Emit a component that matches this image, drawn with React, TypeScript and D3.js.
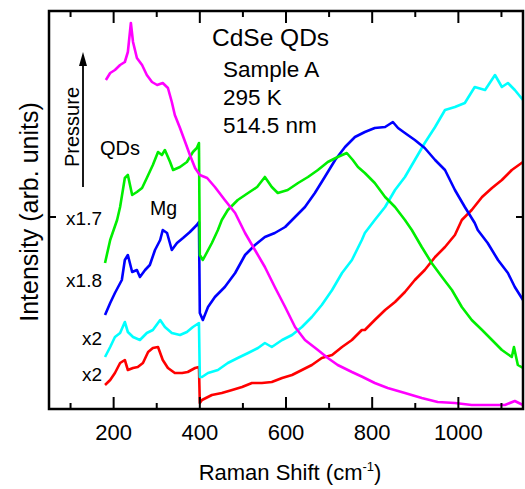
import React, { useEffect, useRef } from "react";
import * as d3 from "d3";

type Pt = [number, number];

// Raman shift (cm-1), intensity (arb. units)
const redSpectrum: Pt[] = [
  [180, 24], [192, 29], [203, 36], [215, 46], [226, 49], [233, 39], [245, 41], [256, 42],
  [268, 46], [280, 57], [291, 61], [303, 62], [314, 49], [326, 41], [342, 36], [359, 36],
  [372, 37], [389, 41], [398, 42], [400, 6], [405, 9], [428, 14], [451, 16], [475, 19],
  [498, 22], [521, 26], [544, 26], [567, 27], [591, 31], [614, 34], [637, 39], [660, 44],
  [683, 51], [707, 54], [730, 62], [753, 69], [776, 79], [783, 79], [806, 89], [830, 99],
  [853, 107], [876, 117], [899, 129], [922, 139], [946, 152], [969, 162], [992, 174],
  [1008, 189], [1031, 199], [1055, 212], [1078, 221], [1101, 229], [1124, 239], [1150, 247],
];

const cyanSpectrum: Pt[] = [
  [180, 52], [192, 62], [203, 72], [215, 76], [226, 87], [233, 77], [245, 72], [261, 69],
  [277, 76], [291, 79], [308, 89], [319, 82], [335, 76], [354, 74], [370, 77], [384, 82],
  [398, 86], [400, 32], [405, 32], [419, 36], [442, 39], [465, 46], [488, 51], [512, 56],
  [535, 61], [551, 66], [567, 62], [591, 69], [614, 74], [637, 82], [660, 92], [683, 104],
  [707, 119], [730, 136], [753, 149], [776, 169], [783, 176], [806, 189], [830, 202],
  [853, 219], [876, 232], [899, 249], [922, 266], [946, 282], [969, 299], [992, 302],
  [1015, 306], [1038, 322], [1062, 319], [1085, 334], [1101, 322], [1115, 326], [1131, 319],
  [1150, 309],
];

const blueSpectrum: Pt[] = [
  [180, 94], [192, 106], [203, 116], [219, 129], [226, 149], [233, 154], [243, 137], [254, 139],
  [261, 132], [273, 139], [284, 144], [296, 159], [308, 169], [314, 179], [324, 176], [335, 159],
  [347, 166], [361, 171], [377, 177], [393, 184], [398, 187], [400, 96], [407, 89], [419, 102],
  [435, 112], [458, 122], [482, 136], [505, 154], [528, 164], [551, 172], [574, 176], [598, 182],
  [621, 192], [644, 202], [667, 216], [690, 232], [714, 249], [737, 262], [760, 272], [783, 277],
  [806, 281], [830, 282], [848, 287], [860, 281], [876, 276], [899, 269], [922, 261], [946, 249],
  [969, 239], [992, 219], [1015, 202], [1038, 186], [1045, 179], [1068, 166], [1092, 149],
  [1115, 136], [1131, 122], [1150, 109],
];

const greenSpectrum: Pt[] = [
  [180, 146], [192, 169], [208, 189], [215, 202], [226, 231], [233, 234], [243, 214], [254, 217],
  [266, 221], [277, 231], [291, 244], [303, 257], [312, 254], [319, 259], [331, 247], [338, 239],
  [354, 242], [370, 247], [384, 257], [393, 261], [398, 266], [400, 154], [407, 149], [428, 166],
  [442, 179], [451, 189], [465, 199], [488, 209], [512, 216], [533, 222], [551, 232], [567, 222],
  [581, 216], [604, 219], [628, 226], [651, 232], [674, 239], [697, 247], [720, 252], [741, 256],
  [755, 249], [767, 242], [783, 236], [806, 226], [830, 212], [853, 202], [876, 189], [892, 179],
  [915, 162], [938, 146], [962, 132], [985, 119], [1008, 102], [1031, 89], [1055, 79], [1078, 69],
  [1101, 59], [1124, 52], [1129, 62], [1138, 44], [1150, 41],
];

const magentaSpectrum: Pt[] = [
  [182, 329], [192, 336], [203, 339], [215, 344], [226, 347], [233, 357], [240, 386], [245, 367],
  [254, 351], [266, 344], [277, 334], [289, 327], [301, 324], [314, 326], [326, 321], [335, 307],
  [342, 294], [354, 281], [366, 267], [377, 254], [389, 241], [400, 234], [417, 231], [435, 222],
  [458, 209], [482, 196], [505, 176], [528, 159], [551, 142], [574, 122], [598, 102], [621, 82],
  [644, 69], [674, 59], [697, 51], [720, 44], [753, 37], [778, 32], [806, 26], [836, 21],
  [876, 16], [915, 11], [952, 7], [992, 6], [1031, 4], [1068, 4], [1108, 4], [1131, 8], [1150, 4],
];

const seriesColors = ["#ff0000", "#00ffff", "#0000ff", "#00ee00", "#ff00ff"];
const spectra = [redSpectrum, cyanSpectrum, blueSpectrum, greenSpectrum, magentaSpectrum];

const majorTicks = [200, 400, 600, 800, 1000];
const minorTicks = [100, 300, 500, 700, 900, 1100];
const yTicks = [192];

// scale labels next to the low-frequency part, and the info block
const scaleLabels = ["x2", "x2", "x1.8", "x1.7"];
const scaleLabelY = [36, 72, 130, 192];
const infoLines = ["Sample A", "295 K", "514.5 nm"];

const W = 525;
const H = 489;
const left = 49;
const right = 523;
const top = 11;
const bottom = 409;
const FONT = "'Liberation Sans', Arial, Helvetica, sans-serif";

const RamanChart = () => {
  const svgRef = useRef<SVGSVGElement>(null);

  useEffect(() => {
    const svg = d3.select(svgRef.current);
    svg.selectAll("*").remove();

    const x = d3.scaleLinear().domain([50, 1150]).range([left, right]);
    const y = d3.scaleLinear().domain([0, 398]).range([bottom, top]);

    svg.append("defs").append("clipPath").attr("id", "plot-clip")
      .append("rect")
      .attr("x", left).attr("y", top)
      .attr("width", right - left).attr("height", bottom - top);

    const line = d3.line<Pt>().x((d) => x(d[0])).y((d) => y(d[1]));

    const curves = svg.append("g").attr("clip-path", "url(#plot-clip)");
    spectra.forEach((s, i) => {
      curves.append("path")
        .datum(s)
        .attr("d", line)
        .attr("fill", "none")
        .attr("stroke", seriesColors[i])
        .attr("stroke-width", 2.6)
        .attr("stroke-linejoin", "round");
    });

    // frame
    svg.append("rect")
      .attr("x", left).attr("y", top)
      .attr("width", right - left).attr("height", bottom - top)
      .attr("fill", "none").attr("stroke", "#000").attr("stroke-width", 2.5);

    const ticks = svg.append("g").attr("stroke", "#000").attr("stroke-width", 2);
    majorTicks.forEach((t) => {
      ticks.append("line").attr("x1", x(t)).attr("x2", x(t)).attr("y1", bottom).attr("y2", bottom - 12);
      ticks.append("line").attr("x1", x(t)).attr("x2", x(t)).attr("y1", top).attr("y2", top + 12);
    });
    minorTicks.forEach((t) => {
      ticks.append("line").attr("x1", x(t)).attr("x2", x(t)).attr("y1", bottom).attr("y2", bottom - 6);
      ticks.append("line").attr("x1", x(t)).attr("x2", x(t)).attr("y1", top).attr("y2", top + 6);
    });
    yTicks.forEach((t) => {
      ticks.append("line").attr("x1", left).attr("x2", left + 7).attr("y1", y(t)).attr("y2", y(t));
      ticks.append("line").attr("x1", right).attr("x2", right - 7).attr("y1", y(t)).attr("y2", y(t));
    });

    svg.append("g")
      .selectAll("text")
      .data(majorTicks)
      .join("text")
      .attr("x", (d) => x(d))
      .attr("y", 440)
      .attr("text-anchor", "middle")
      .attr("font-size", 22)
      .text((d) => d);

    const xl = svg.append("text")
      .attr("x", 290).attr("y", 480)
      .attr("text-anchor", "middle")
      .attr("font-size", 22);
    xl.append("tspan").text("Raman Shift (cm");
    xl.append("tspan").attr("font-size", 13).attr("dy", -9).text("-1");
    xl.append("tspan").attr("dy", 9).text(")");

    svg.append("text")
      .attr("transform", `translate(38,${(bottom + top) / 2 + 2}) rotate(-90)`)
      .attr("text-anchor", "middle")
      .attr("font-size", 25)
      .text("Intensity (arb. units)");

    // annotations
    svg.append("text").attr("x", 212).attr("y", 46).attr("font-size", 24.5).text("CdSe QDs");
    svg.append("g")
      .selectAll("text")
      .data(infoLines)
      .join("text")
      .attr("x", 223)
      .attr("y", (d, i) => 77 + i * 28)
      .attr("font-size", 22.5)
      .text((d) => d);

    svg.append("g")
      .selectAll("text")
      .data(scaleLabels)
      .join("text")
      .attr("x", 102)
      .attr("y", (d, i) => y(scaleLabelY[i]) + 8)
      .attr("text-anchor", "end")
      .attr("font-size", 19)
      .text((d) => d);

    svg.append("text").attr("x", 100).attr("y", 155).attr("font-size", 20).text("QDs");
    svg.append("text").attr("x", 150).attr("y", 215).attr("font-size", 19.5).text("Mg");

    svg.append("text")
      .attr("transform", "translate(79,167) rotate(-90)")
      .attr("font-size", 20)
      .text("Pressure");
    svg.append("line")
      .attr("x1", 83).attr("x2", 83).attr("y1", 187).attr("y2", 62)
      .attr("stroke", "#000").attr("stroke-width", 1.8);
    svg.append("path")
      .attr("d", "M83,52 L79,66 L87,66 Z")
      .attr("fill", "#000");
  }, []);

  return (
    <svg
      ref={svgRef}
      width={W}
      height={H}
      style={{ position: "absolute", left: 0, top: 0, background: "#fff", fontFamily: FONT }}
    />
  );
};

export default function App() {
  return <RamanChart />;
}
